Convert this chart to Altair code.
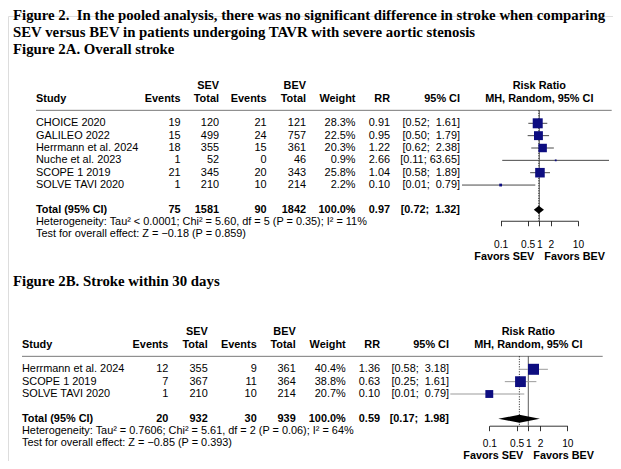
import altair as alt
import pandas as pd

# ---------------- data ----------------
TITLE_LINES = [
    "Figure 2.\u00a0 In the pooled analysis, there was no significant difference in stroke when comparing",
    "SEV versus BEV in patients undergoing TAVR with severe aortic stenosis",
    "Figure 2A. Overall stroke",
]
TITLE_B = "Figure 2B. Stroke within 30 days"

HEAD_TOP = ["SEV", "BEV", "Risk Ratio"]
HEAD_BOT = ["Study", "Events", "Total", "Events", "Total", "Weight", "RR", "95% CI", "MH, Random, 95% CI"]
FAVORS = ["Favors SEV", "Favors BEV"]
TICKS = [0.1, 0.5, 1, 2, 10]

A_STUDY = ["CHOICE 2020", "GALILEO 2022", "Herrmann et al. 2024", "Nuche et al. 2023", "SCOPE 1 2019", "SOLVE TAVI 2020"]
A_SEV_EVENTS = [19, 15, 18, 1, 21, 1]
A_SEV_TOTAL = [120, 499, 355, 52, 345, 210]
A_BEV_EVENTS = [21, 24, 15, 0, 20, 10]
A_BEV_TOTAL = [121, 757, 361, 46, 343, 214]
A_WEIGHT = [28.3, 22.5, 20.3, 0.9, 25.8, 2.2]
A_RR = [0.91, 0.95, 1.22, 2.66, 1.04, 0.10]
A_LO = [0.52, 0.50, 0.62, 0.11, 0.58, 0.01]
A_HI = [1.61, 1.79, 2.38, 63.65, 1.89, 0.79]
A_TOTAL = {"sev_e": 75, "sev_t": 1581, "bev_e": 90, "bev_t": 1842, "w": 100.0, "rr": 0.97, "lo": 0.72, "hi": 1.32}
A_HET = "Heterogeneity: Tau\u00b2 < 0.0001; Chi\u00b2 = 5.60, df = 5 (P = 0.35); I\u00b2 = 11%"
A_TEST = "Test for overall effect: Z = \u22120.18 (P = 0.859)"

B_STUDY = ["Herrmann et al. 2024", "SCOPE 1 2019", "SOLVE TAVI 2020"]
B_SEV_EVENTS = [12, 7, 1]
B_SEV_TOTAL = [355, 367, 210]
B_BEV_EVENTS = [9, 11, 10]
B_BEV_TOTAL = [361, 364, 214]
B_WEIGHT = [40.4, 38.8, 20.7]
B_RR = [1.36, 0.63, 0.10]
B_LO = [0.58, 0.25, 0.01]
B_HI = [3.18, 1.61, 0.79]
B_TOTAL = {"sev_e": 20, "sev_t": 932, "bev_e": 30, "bev_t": 939, "w": 100.0, "rr": 0.59, "lo": 0.17, "hi": 1.98}
B_HET = "Heterogeneity: Tau\u00b2 = 0.7606; Chi\u00b2 = 5.61, df = 2 (P = 0.06); I\u00b2 = 64%"
B_TEST = "Test for overall effect: Z = \u22120.85 (P = 0.393)"

# ---------------- layout ----------------
W, H = 605, 445
PAD_TOP = 8
SANS = "Liberation Sans"
SERIF = "Liberation Serif"
FS = 10.9
NAVY = "#0d0d80"


def lx(px):
    return px - 8


def ly(py):
    return py - 8 - PAD_TOP


ROW = 12.35
A0 = ly(123.3)
YS = alt.Scale(domain=[0, 1], range=[A0, A0 + ROW], nice=False, zero=False)

LAYOUT_A = dict(first=123.3, study=36, sev_ev=180.5, sev_tot=219, bev_ev=266.5, bev_tot=306,
                weight=355.5, rr=390, ci=460, one=539.3, dec=38.65, rule_end=611.7,
                axis_dy=11, label_pad=14, fav_gap=5, fav_dy=36, ci_color="#4a4a4a", maxarea=100)
LAYOUT_B = dict(first=369.3, study=22, sev_ev=168.3, sev_tot=207.7, bev_ev=256.7, bev_tot=295.7,
                weight=345.7, rr=380, ci=449, one=528.3, dec=39.0, rule_end=602.7,
                axis_dy=7, label_pad=8, fav_gap=5, fav_dy=30, ci_color="#9b9b9b", maxarea=121)


def ci_fmt(lo, hi):
    pad = " " if hi >= 10 else " \u00a0"
    return f"[{lo:.2f};{pad}{hi:.2f}]"


def text_at(df, field, x, align, bold=False, size=FS, font=SANS):
    return alt.Chart(df).mark_text(
        align=align, baseline="middle", font=font, fontSize=size,
        fontWeight="bold" if bold else "normal", color="black"
    ).encode(x=alt.value(x), y=alt.Y("r:Q", scale=YS, axis=None), text=alt.Text(f"{field}:N"))


def label(txt, r, x, align, bold=False, size=FS):
    return text_at(pd.DataFrame({"r": [r], "t": [txt]}), "t", x, align, bold, size)


def panel(study, sev_e, sev_t, bev_e, bev_t, weight, rr, lo, hi, tot, het, test, L):
    off = (L["first"] - 123.3) / ROW
    n = len(study)
    r_total = off + n + 1
    r_het = r_total + 1.0
    r_test = r_total + 1.95
    r_axis = r_total + L["axis_dy"] / ROW
    r_h1 = off - 3.0
    r_h2 = off - 1.94
    r_sep = off - 1.05
    axis_local = A0 + ROW * r_axis

    rows = pd.DataFrame({
        "r": [off + i for i in range(n)],
        "study": study,
        "sev_e": [str(v) for v in sev_e],
        "sev_t": [str(v) for v in sev_t],
        "bev_e": [str(v) for v in bev_e],
        "bev_t": [str(v) for v in bev_t],
        "w_txt": [f"{v:.1f}%" for v in weight],
        "rr_txt": [f"{v:.2f}" for v in rr],
        "ci_txt": [ci_fmt(a, b) for a, b in zip(lo, hi)],
        "w": weight, "rr": rr, "lo": lo, "hi": hi,
    })
    total = pd.DataFrame({
        "r": [r_total], "t": ["Total (95% CI)"],
        "sev_e": [str(tot["sev_e"])], "sev_t": [str(tot["sev_t"])],
        "bev_e": [str(tot["bev_e"])], "bev_t": [str(tot["bev_t"])],
        "w_txt": [f"{tot['w']:.1f}%"], "rr_txt": [f"{tot['rr']:.2f}"],
        "ci_txt": [ci_fmt(tot["lo"], tot["hi"])],
    })

    cx = {k: lx(L[k]) for k in ["study", "sev_ev", "sev_tot", "bev_ev", "bev_tot", "weight", "rr", "ci", "one"]}
    xs = alt.Scale(type="log", domain=[TICKS[0], TICKS[-1]],
                   range=[cx["one"] - L["dec"], cx["one"] + L["dec"]], nice=False, zero=False)

    layers = []
    # headers
    layers.append(label(HEAD_TOP[0], r_h1, cx["sev_tot"], "right", True))
    layers.append(label(HEAD_TOP[1], r_h1, cx["bev_tot"], "right", True))
    layers.append(label(HEAD_TOP[2], r_h1, cx["one"], "center", True))
    hx = [("study", "left"), ("sev_ev", "right"), ("sev_tot", "right"), ("bev_ev", "right"),
          ("bev_tot", "right"), ("weight", "right"), ("rr", "right"), ("ci", "right"), ("one", "center")]
    for txt, (k, al) in zip(HEAD_BOT, hx):
        layers.append(label(txt, r_h2, cx[k], al, True))
    # separator line
    layers.append(alt.Chart(pd.DataFrame({"r": [r_sep]})).mark_rule(color="#6a6a6a", strokeWidth=0.9).encode(
        x=alt.value(cx["study"]), x2=alt.value(lx(L["rule_end"])),
        y=alt.Y("r:Q", scale=YS, axis=None)))
    # study rows
    layers.append(text_at(rows, "study", cx["study"], "left"))
    for f, k in [("sev_e", "sev_ev"), ("sev_t", "sev_tot"), ("bev_e", "bev_ev"), ("bev_t", "bev_tot"),
                 ("w_txt", "weight"), ("rr_txt", "rr"), ("ci_txt", "ci")]:
        layers.append(text_at(rows, f, cx[k], "right"))
    # total row
    layers.append(text_at(total, "t", cx["study"], "left", True))
    for f, k in [("sev_e", "sev_ev"), ("sev_t", "sev_tot"), ("bev_e", "bev_ev"), ("bev_t", "bev_tot"),
                 ("w_txt", "weight"), ("rr_txt", "rr"), ("ci_txt", "ci")]:
        layers.append(text_at(total, f, cx[k], "right", True))
    layers.append(label(het, r_het, cx["study"], "left"))
    layers.append(label(test, r_test, cx["study"], "left"))

    # reference line at 1 and dotted line at pooled estimate
    vref = pd.DataFrame({"v": [1.0], "r0": [r_sep], "r1": [r_axis]})
    layers.append(alt.Chart(vref).mark_rule(color="#333333", strokeWidth=0.8).encode(
        x=alt.X("v:Q", scale=xs, axis=None), y=alt.Y("r0:Q", scale=YS, axis=None), y2="r1:Q"))
    vpool = pd.DataFrame({"v": [tot["rr"]], "r0": [r_sep], "r1": [r_axis]})
    layers.append(alt.Chart(vpool).mark_rule(color="black", strokeWidth=0.9, strokeDash=[1, 1.5]).encode(
        x=alt.X("v:Q", scale=xs, axis=None), y=alt.Y("r0:Q", scale=YS, axis=None), y2="r1:Q"))

    # confidence intervals
    layers.append(alt.Chart(rows).mark_rule(color=L["ci_color"], strokeWidth=1).encode(
        x=alt.X("lo:Q", scale=xs, axis=None), x2="hi:Q", y=alt.Y("r:Q", scale=YS, axis=None)))
    # squares (with axis)
    axis = alt.Axis(orient="bottom", offset=axis_local - H, values=TICKS, format="~g", title=None,
                    tickSize=5, tickWidth=0.8, tickColor="black", domainColor="black", domainWidth=0.8,
                    labelFont=SANS, labelFontSize=10.2, labelColor="black", labelPadding=L["label_pad"],
                    labelFlush=False, labelOverlap=False, labelBound=False, grid=False)
    layers.append(alt.Chart(rows).mark_square(color=NAVY, opacity=1, filled=True).encode(
        x=alt.X("rr:Q", scale=xs, axis=axis), y=alt.Y("r:Q", scale=YS, axis=None),
        size=alt.Size("w:Q", scale=alt.Scale(domain=[0, max(weight)], range=[0, L["maxarea"]]), legend=None)))
    # diamond
    h = 0.32
    dia = pd.DataFrame({"x": [tot["lo"], tot["rr"], tot["hi"]],
                        "y": [r_total, r_total - h, r_total],
                        "y2": [r_total, r_total + h, r_total]})
    layers.append(alt.Chart(dia).mark_area(color="black", opacity=1).encode(
        x=alt.X("x:Q", scale=xs, axis=None), y=alt.Y("y:Q", scale=YS, axis=None), y2="y2:Q"))

    # favours labels
    fav_y = axis_local + L["fav_dy"]
    for txt, dx, al in [(FAVORS[0], -L["fav_gap"], "right"), (FAVORS[1], L["fav_gap"], "left")]:
        layers.append(alt.Chart(pd.DataFrame({"t": [txt]})).mark_text(
            align=al, baseline="middle", font=SANS, fontSize=10.8, fontWeight="bold", color="black"
        ).encode(x=alt.value(cx["one"] + dx), y=alt.value(fav_y), text="t:N"))
    return layers


titles = []
for txt, py in zip(TITLE_LINES + [TITLE_B], [15.5, 32.5, 50, 282]):
    titles.append(alt.Chart(pd.DataFrame({"t": [txt]})).mark_text(
        align="left", baseline="middle", font=SERIF, fontSize=14.8, fontWeight="bold", color="black"
    ).encode(x=alt.value(lx(13)), y=alt.value(ly(py)), text="t:N"))

layers = titles
layers += panel(A_STUDY, A_SEV_EVENTS, A_SEV_TOTAL, A_BEV_EVENTS, A_BEV_TOTAL, A_WEIGHT, A_RR, A_LO, A_HI,
                A_TOTAL, A_HET, A_TEST, LAYOUT_A)
layers += panel(B_STUDY, B_SEV_EVENTS, B_SEV_TOTAL, B_BEV_EVENTS, B_BEV_TOTAL, B_WEIGHT, B_RR, B_LO, B_HI,
                B_TOTAL, B_HET, B_TEST, LAYOUT_B)

chart = alt.layer(*layers).resolve_scale(x="independent", size="independent").properties(
    width=W, height=H,
    autosize=alt.AutoSizeParams(type="none"),
    padding={"left": 0, "top": PAD_TOP, "right": 0, "bottom": 0},
).configure_view(stroke=None).configure(background="white")

chart.save("out.html", embed_options={"renderer": "svg", "actions": False})
